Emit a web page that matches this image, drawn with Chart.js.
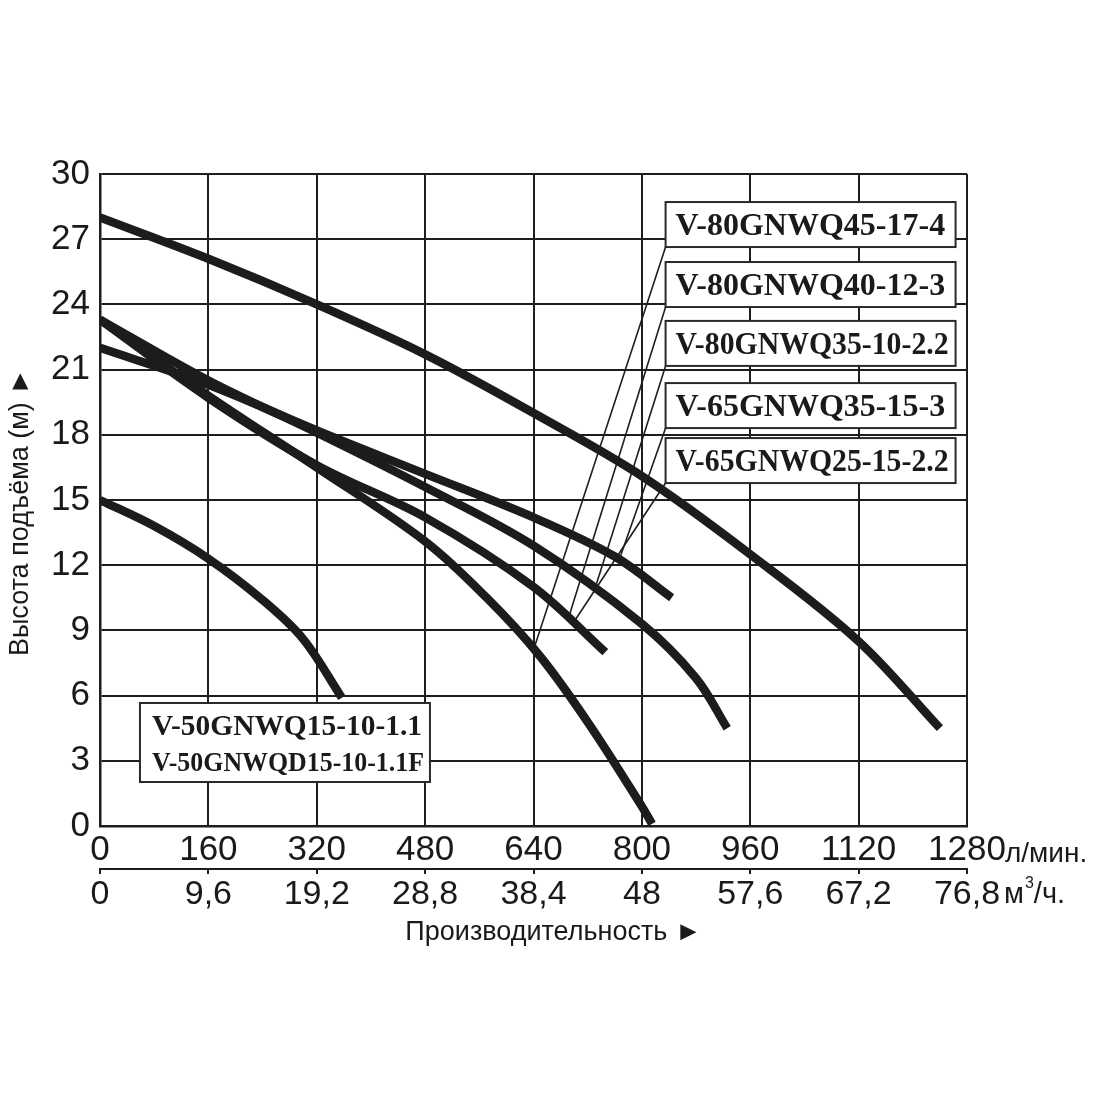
<!DOCTYPE html>
<html><head><meta charset="utf-8">
<script src="https://cdn.jsdelivr.net/npm/chart.js@4.4.1/dist/chart.umd.min.js"></script>
<style>html,body{margin:0;padding:0;background:#fff;}#wrap{width:1100px;height:1100px;position:relative;}</style>
</head><body><div id="wrap"><canvas id="c" width="1100" height="1100"></canvas></div>
<script>
// ---- axis ticks ----
const flowTicks = [0,160,320,480,640,800,960,1120,1280];           // л/мин.
const flowM3Labels = ['0','9,6','19,2','28,8','38,4','48','57,6','67,2','76,8']; // м³/ч.
const headTicks = [0,3,6,9,12,15,18,21,24,27,30];

// ---- curves (flow л/мин., head м) ----
const flowA = [0,160,320,480,640,800,960,1120,1240];
const headA = [28.0,26.1,24.0,21.7,19.0,16.1,12.5,8.5,4.5];
const flowB = [0,160,320,480,640,760,844];
const headB = [22.0,20.3,18.2,16.2,14.2,12.4,10.5];
const flowC = [0,160,320,480,640,746];
const headC = [23.3,19.7,16.6,14.2,11.0,8.0];
const flowD = [0,160,320,480,640,800,880,926];
const headD = [23.3,20.5,18.1,15.6,12.9,9.3,6.8,4.5];
const flowE = [0,160,320,480,571,650,724,800,815];
const headE = [23.3,19.8,16.5,13.1,10.5,7.8,4.6,0.9,0.1];
const flowF = [0,80,160,240,300,357];
const headF = [15.0,13.8,12.3,10.4,8.6,5.9];

// ---- model labels ----
const modelNames = ['V-80GNWQ45-17-4','V-80GNWQ40-12-3','V-80GNWQ35-10-2.2','V-65GNWQ35-15-3','V-65GNWQ25-15-2.2'];
const labelFlow = [835,835,835,835,835];
const labelHead = [28.71,25.95,23.24,20.38,17.85];
const leaderFlow = [640,691,731,767,702];
const leaderHead = [8.1,9.5,10.95,12.3,9.5];
const smallModelNames = ['V-50GNWQ15-10-1.1','V-50GNWQD15-10-1.1F'];
const smallLabelFlow = 59;
const smallLabelHead = 5.66;

const yTitle = 'Высота подъёма (м) ►';
const xTitle = 'Производительность ►';
const unitFlow = 'л/мин.';
const unitM3 = 'м';

function pts(xs, ys){ return xs.map((v,i)=>({x:v, y:ys[i]})); }
const curveColor = '#1c1c1c';
function ds(xs, ys){
  return {data: pts(xs, ys), borderColor: curveColor, borderWidth: 8.5, pointRadius: 0,
          fill: false, tension: 0.35, borderCapStyle: 'butt'};
}

const SANS = '"Liberation Sans", Arial, sans-serif';
const SERIF = '"Liberation Serif", "Times New Roman", serif';
const gridColor = '#1e1e1e';

const annot = {
  id: 'annot',
  afterDatasetsDraw(chart){
    const {ctx, scales} = chart;
    const x = scales.x, y = scales.y;
    const boxW = 290, boxH = 45;
    ctx.save();
    // leader lines
    ctx.strokeStyle = '#1e1e1e';
    ctx.lineWidth = 1.6;
    for (let i=0;i<modelNames.length;i++){
      const bx = x.getPixelForValue(labelFlow[i]);
      const by = y.getPixelForValue(labelHead[i]) + boxH;
      ctx.beginPath();
      ctx.moveTo(bx, by);
      ctx.lineTo(x.getPixelForValue(leaderFlow[i]), y.getPixelForValue(leaderHead[i]));
      ctx.stroke();
    }
    // boxes
    for (let i=0;i<modelNames.length;i++){
      const bx = x.getPixelForValue(labelFlow[i]);
      const by = y.getPixelForValue(labelHead[i]);
      ctx.fillStyle = '#fff';
      ctx.fillRect(bx, by, boxW, boxH);
      ctx.strokeStyle = '#2a2a2a';
      ctx.lineWidth = 2;
      ctx.strokeRect(bx, by, boxW, boxH);
      ctx.fillStyle = '#1a1a1a';
      ctx.font = 'bold 32px ' + SERIF;
      ctx.textAlign = 'left';
      ctx.textBaseline = 'alphabetic';
      ctx.fillText(modelNames[i], bx + 10, by + 33, 273);
    }
    // small model box
    const sx = x.getPixelForValue(smallLabelFlow);
    const sy = y.getPixelForValue(smallLabelHead);
    ctx.fillStyle = '#fff';
    ctx.fillRect(sx, sy, 290, 79);
    ctx.strokeStyle = '#2a2a2a';
    ctx.lineWidth = 2;
    ctx.strokeRect(sx, sy, 290, 79);
    ctx.fillStyle = '#1a1a1a';
    ctx.font = 'bold 30px ' + SERIF;
    ctx.fillText(smallModelNames[0], sx + 12, sy + 32, 270);
    ctx.font = 'bold 26.5px ' + SERIF;
    ctx.fillText(smallModelNames[1], sx + 12, sy + 68, 272);
    ctx.restore();
  },
  afterDraw(chart){
    const {ctx, scales} = chart;
    const x = scales.x, y = scales.y;
    ctx.save();
    ctx.fillStyle = '#1a1a1a';
    ctx.textAlign = 'left';
    ctx.textBaseline = 'alphabetic';
    // units
    const right = x.getPixelForValue(flowTicks[flowTicks.length-1]);
    ctx.font = '28px ' + SANS;
    ctx.fillText(unitFlow, right + 38, 862);
    ctx.font = '29px ' + SANS;
    let ux = right + 37;
    ctx.fillText(unitM3, ux, 903);
    ux += ctx.measureText(unitM3).width;
    ctx.font = '16px ' + SANS;
    ctx.fillText('3', ux + 1, 888);
    ux += ctx.measureText('3').width + 1;
    ctx.font = '29px ' + SANS;
    ctx.fillText('/ч.', ux, 903);
    // axis titles
    ctx.font = '27px ' + SANS;
    ctx.textAlign = 'center';
    ctx.textBaseline = 'middle';
    ctx.fillText(xTitle, (x.left + x.right)/2 + 20, 933);
    ctx.translate(21, (y.top + y.bottom)/2 + 12);
    ctx.rotate(-Math.PI/2);
    ctx.fillText(yTitle, 0, 0);
    ctx.restore();
  }
};

new Chart(document.getElementById('c'), {
  type: 'line',
  data: { datasets: [ds(flowA,headA), ds(flowB,headB), ds(flowC,headC), ds(flowD,headD), ds(flowE,headE), ds(flowF,headF)] },
  options: {
    responsive: false, animation: false, devicePixelRatio: 1,
    layout: { padding: {left: 0, right: 133, top: 174, bottom: 171} },
    plugins: { legend: {display: false}, tooltip: {enabled: false} },
    scales: {
      x: {
        type: 'linear', position: 'bottom', weight: 0,
        min: flowTicks[0], max: flowTicks[flowTicks.length-1],
        afterBuildTicks: s => { s.ticks = flowTicks.map(v => ({value: v})); },
        ticks: { callback: v => String(v), autoSkip: false, maxRotation: 0, minRotation: 0,
                 font: {family: SANS, size: 35}, color: '#1a1a1a', padding: 3 },
        grid: { color: gridColor, lineWidth: 2, drawTicks: false },
        border: { color: gridColor, width: 2.5 },
        afterFit: s => { s.height = 43; }
      },
      x2: {
        type: 'linear', position: 'bottom', axis: 'x', weight: 1,
        min: flowTicks[0], max: flowTicks[flowTicks.length-1],
        afterBuildTicks: s => { s.ticks = flowTicks.map(v => ({value: v})); },
        ticks: { callback: (v, i) => flowM3Labels[i], autoSkip: false, maxRotation: 0, minRotation: 0,
                 font: {family: SANS, size: 34}, color: '#1a1a1a', padding: 0 },
        grid: { drawOnChartArea: false, drawTicks: true, tickLength: 5, color: gridColor, lineWidth: 2 },
        border: { display: true, color: gridColor, width: 2 },
        afterFit: s => { s.height = 60; }
      },
      y: {
        type: 'linear', position: 'left',
        min: headTicks[0], max: headTicks[headTicks.length-1],
        afterBuildTicks: s => { s.ticks = headTicks.map(v => ({value: v})); },
        ticks: { callback: v => String(v), font: {family: SANS, size: 35}, color: '#1a1a1a', padding: 10 },
        grid: { color: gridColor, lineWidth: 2, drawTicks: false },
        border: { color: gridColor, width: 2.5 },
        afterFit: s => { s.width = 100; }
      }
    }
  },
  plugins: [annot]
});
</script>
</body></html>
